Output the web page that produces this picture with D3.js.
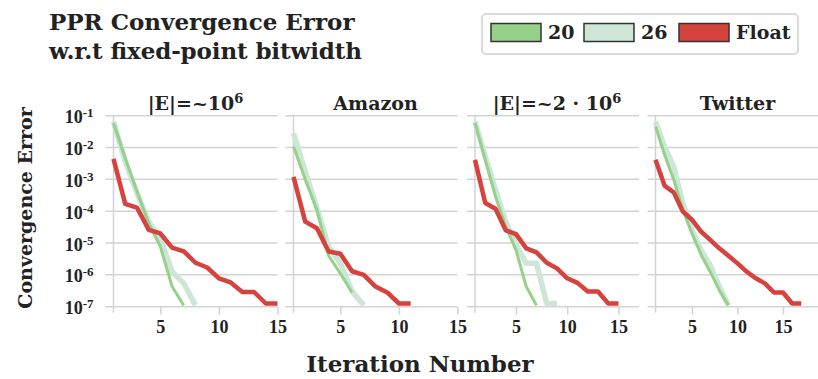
<!DOCTYPE html>
<html>
<head>
<meta charset="utf-8">
<script src="https://cdn.jsdelivr.net/npm/d3@7"></script>
<style>
  body { margin: 0; background: #fff; }
  text { font-family: "DejaVu Serif", serif; font-weight: bold; fill: #222; }
</style>
</head>
<body>
<div id="chart"></div>
<script>
// Data (error per iteration, iteration starts at 1)
var panelTitles = ["|E|=~10", "Amazon", "|E|=~2 · 10", "Twitter"];
var seriesNames = ["20", "26", "Float"];
var xMaxes = [15, 15, 17, 19];
var xTicks = [5, 10, 15];
var yTickExps = [-1, -2, -3, -4, -5, -6, -7];

var bits20 = [
  [5.9e-2, 4.7e-3, 4.2e-4, 4.2e-5, 7.8e-6, 4.3e-7, 1.1e-7],
  [1.07e-2, 1.0e-3, 1.1e-4, 4.0e-6, 1.1e-6, 2.8e-7],
  [5.9e-2, 4.1e-3, 2.9e-4, 3.3e-5, 6.0e-6, 4.3e-7, 1.1e-7],
  [4.6e-2, 5.9e-3, 9.8e-4, 1.1e-4, 2.0e-5, 4.3e-6, 1.26e-6, 3.3e-7, 1.1e-7]
];
var bits26 = [
  [6.6e-2, 3.6e-3, 3.7e-4, 4.7e-5, 1.4e-5, 1.26e-6, 5.4e-7, 1.1e-7],
  [2.8e-2, 1.8e-3, 1.26e-4, 7.8e-6, 2.3e-6, 3.0e-7, 1.1e-7],
  [6.6e-2, 5.2e-3, 4.7e-4, 4.7e-5, 8.7e-6, 2.3e-6, 2.3e-6, 1.26e-7, 1.26e-7],
  [6.6e-2, 1.07e-2, 2.5e-3, 1.8e-4, 2.6e-5, 6.0e-6, 2.0e-6, 4.3e-7, 1.1e-7]
];
var floatErr = [
  [4.4e-3, 1.7e-4, 1.3e-4, 2.6e-5, 2.0e-5, 7.2e-6, 5.5e-6, 2.4e-6, 1.7e-6, 7.8e-7, 5.8e-7, 2.9e-7, 2.9e-7, 1.26e-7, 1.26e-7],
  [1.2e-3, 4.7e-5, 2.9e-5, 5.4e-6, 4.6e-6, 1.3e-6, 1.0e-6, 4.3e-7, 2.8e-7, 1.26e-7, 1.26e-7],
  [4.1e-3, 1.8e-4, 1.2e-4, 2.5e-5, 1.9e-5, 6.8e-6, 5.1e-6, 2.4e-6, 1.6e-6, 7.8e-7, 5.6e-7, 3.0e-7, 3.0e-7, 1.26e-7, 1.26e-7],
  [4.1e-3, 6.3e-4, 3.9e-4, 9.8e-5, 5.4e-5, 2.3e-5, 1.26e-5, 6.8e-6, 4.0e-6, 2.3e-6, 1.26e-6, 7.8e-7, 5.4e-7, 2.8e-7, 2.8e-7, 1.26e-7, 1.26e-7]
];

var colors = { "20": "#96d18a", "26": "#cde6d8", "Float": "#d6423d" };
var gridColor = "#d3d3d3";

var svgWidth = 818;
var svgHeight = 379;
var panelLefts = [113.5, 293.5, 475, 655.5];
var panelWidth = 164;
var plotTop = 115.7;
var plotBottom = 306.7;

var svg = d3.select("#chart")
    .append("svg")
    .attr("width", svgWidth)
    .attr("height", svgHeight);

var yScale = d3.scaleLog()
    .domain([1e-7, 1e-1])
    .range([plotBottom, plotTop]);

// title
svg.append("text").attr("x", 49).attr("y", 30).style("font-size", "23px")
    .text("PPR Convergence Error");
svg.append("text").attr("x", 49).attr("y", 59).style("font-size", "23px")
    .attr("textLength", 313)
    .text("w.r.t fixed-point bitwidth");

panelTitles.forEach(function(title, p) {
    var left = panelLefts[p];
    var xScale = d3.scaleLinear()
        .domain([1, xMaxes[p]])
        .range([left, left + panelWidth]);
    var g = svg.append("g");

    // gridlines
    g.selectAll(".grid")
        .data(yTickExps)
        .enter()
        .append("line")
        .attr("x1", left - 8)
        .attr("x2", left + panelWidth)
        .attr("y1", d => yScale(Math.pow(10, d)))
        .attr("y2", d => yScale(Math.pow(10, d)))
        .attr("stroke", gridColor)
        .attr("stroke-width", 1.5);
    // left spine
    g.append("line")
        .attr("x1", left).attr("x2", left)
        .attr("y1", plotTop).attr("y2", plotBottom + 6)
        .attr("stroke", gridColor).attr("stroke-width", 1.5);

    // x axis
    var bottomAxis = d3.axisBottom(xScale).tickValues(xTicks).tickSize(8).tickPadding(6);
    var xAxis = g.append("g")
        .attr("transform", `translate(0, ${plotBottom})`)
        .call(bottomAxis);
    xAxis.select(".domain").remove();
    xAxis.selectAll(".tick line").attr("stroke", gridColor).attr("stroke-width", 1.5);
    xAxis.selectAll(".tick text")
        .attr("fill", "#222")
        .style("font-family", "Liberation Serif")
        .style("font-weight", "bold")
        .style("font-size", "18px");

    // y tick labels, first panel only
    if (p === 0) {
        var lab = g.selectAll(".ylab")
            .data(yTickExps)
            .enter()
            .append("text")
            .attr("text-anchor", "end")
            .attr("x", left - 20)
            .attr("y", d => yScale(Math.pow(10, d)) + 7.5)
            .style("font-family", "Liberation Serif")
            .style("font-size", "18px");
        lab.append("tspan").text("10");
        lab.append("tspan").attr("dy", -6).style("font-size", "13px").text(d => d);
    }

    // panel title
    var t = g.append("text")
        .attr("x", left + panelWidth / 2)
        .attr("y", 110)
        .attr("text-anchor", "middle")
        .style("font-size", "19px")
        .text(title);
    if (p === 0 || p === 2) {
        t.append("tspan").attr("dy", -7).style("font-size", "13px").text("6");
    }

    var line = d3.line()
        .x((d, i) => xScale(i + 1))
        .y(d => yScale(d));

    g.append("path").datum(bits26[p])
        .attr("d", line).attr("fill", "none")
        .attr("stroke", colors["26"]).attr("stroke-width", 5.5)
        .attr("stroke-linejoin", "round");
    g.append("path").datum(bits20[p])
        .attr("d", line).attr("fill", "none")
        .attr("stroke", colors["20"]).attr("stroke-width", 3)
        .attr("stroke-linejoin", "round");
    g.append("path").datum(floatErr[p])
        .attr("d", line).attr("fill", "none")
        .attr("stroke", colors["Float"]).attr("stroke-width", 4.5)
        .attr("stroke-linejoin", "round");
});

// axis labels
svg.append("text")
    .attr("x", 420).attr("y", 372)
    .attr("text-anchor", "middle")
    .style("font-size", "23px")
    .text("Iteration Number");
svg.append("text")
    .attr("transform", "translate(32, 208) rotate(-90)")
    .attr("text-anchor", "middle")
    .style("font-size", "19px")
    .text("Convergence Error");

// legend
var legend = svg.append("g");
legend.append("rect")
    .attr("x", 482).attr("y", 14)
    .attr("width", 316).attr("height", 40)
    .attr("rx", 4)
    .attr("fill", "#fff")
    .attr("stroke", "#d0d0d0")
    .attr("stroke-width", 1.5);
var legendX = [491, 584, 679];
seriesNames.forEach(function(name, i) {
    legend.append("rect")
        .attr("x", legendX[i]).attr("y", 23.5)
        .attr("width", 50).attr("height", 18)
        .attr("fill", colors[name])
        .attr("stroke", "#333")
        .attr("stroke-width", 1.5);
    legend.append("text")
        .attr("x", legendX[i] + 57).attr("y", 39)
        .style("font-size", "19px")
        .text(name);
});
</script>
</body>
</html>
